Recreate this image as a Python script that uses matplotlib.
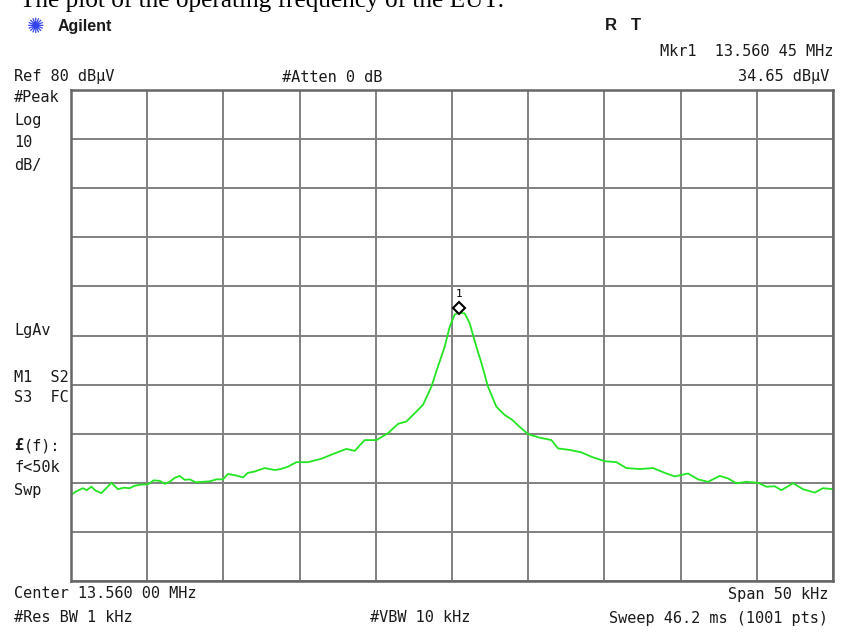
import matplotlib.pyplot as plt
import matplotlib.transforms as mtransforms

# Trace: offset from centre (kHz) and level (dBuV)
freq_khz = [
    -25.0, -24.69, -24.23, -23.97, -23.66, -23.38, -23.01, -22.72, -22.35, -21.92,
    -21.54, -21.15, -20.82, -20.49, -19.95, -19.57, -19.18, -18.85, -18.52, -18.20,
    -17.87, -17.54, -17.21, -16.82, -16.34, -15.90, -15.46, -15.03, -14.70, -14.19,
    -13.71, -13.41, -12.95, -12.29, -11.63, -11.24, -10.76, -10.21, -9.45, -8.57,
    -7.70, -6.93, -6.38, -5.73, -4.96, -4.20, -3.54, -2.99, -2.34, -1.90,
    -1.35, -0.92, -0.48, -0.15, 0.18, 0.45, 0.83, 1.16, 1.60, 1.93,
    2.36, 2.91, 3.46, 3.92, 4.44, 4.99, 5.75, 6.52, 6.96, 7.72,
    8.49, 9.15, 10.02, 10.79, 11.44, 12.32, 13.19, 14.07, 14.61, 15.49,
    16.14, 16.80, 17.57, 18.11, 18.66, 19.32, 20.08, 20.63, 21.17, 21.61,
    22.38, 23.03, 23.80, 24.34, 25.0,
]
level_dbuv = [
    -2.5, -1.8, -1.1, -1.5, -0.8, -1.6, -2.1, -1.2, 0.0, -1.3,
    -1.0, -1.1, -0.6, -0.4, -0.3, 0.5, 0.4, -0.2, 0.2, 1.0,
    1.4, 0.6, 0.7, 0.1, 0.2, 0.3, 0.7, 0.7, 1.8, 1.5,
    1.1, 2.0, 2.3, 3.0, 2.6, 2.8, 3.3, 4.2, 4.2, 4.9,
    6.0, 6.9, 6.5, 8.7, 8.7, 10.1, 12.0, 12.5, 14.5, 15.9,
    19.6, 23.7, 27.7, 31.8, 34.3, 34.65, 34.5, 32.5, 27.7, 24.4,
    19.6, 15.5, 13.8, 12.9, 11.4, 9.9, 9.2, 8.7, 7.0, 6.7,
    6.2, 5.3, 4.4, 4.2, 3.0, 2.8, 3.0, 1.9, 1.3, 1.9,
    0.7, 0.2, 1.4, 0.9, -0.1, 0.2, 0.0, -0.8, -0.7, -1.5,
    -0.1, -1.3, -2.0, -1.1, -1.3,
]

ref_level = 80
db_per_div = 10
span_khz = 50
mkr_freq = 0.45
mkr_level = 34.65

left_labels = [("#Peak", 98), ("Log", 120), ("10", 143), ("dB/", 165),
               ("LgAv", 330), ("M1  S2", 377), ("S3  FC", 398),
               ("f<50k", 468), ("Swp", 490)]

W, H = 842, 641
fig = plt.figure(figsize=(W / 100, H / 100), dpi=100)
fig.patch.set_facecolor('white')

ax = fig.add_axes([71 / W, (H - 581) / H, (833 - 71) / W, (581 - 90) / H])
ax.plot(freq_khz, level_dbuv, color='#22e622', linewidth=1.3)
ax.set_xlim(-span_khz / 2, span_khz / 2)
ax.set_ylim(ref_level - 10 * db_per_div, ref_level)
ax.set_xticks([-25 + 5 * i for i in range(11)])
ax.set_yticks([ref_level - db_per_div * i for i in range(11)])
ax.tick_params(length=0, labelbottom=False, labelleft=False)
ax.grid(True, color='#808080', linewidth=1.4)
for s in ax.spines.values():
    s.set_color('#666666')
    s.set_linewidth(1.8)

# marker 1 sits a few pixels above the trace
off = mtransforms.offset_copy(ax.transData, fig=fig, x=0, y=5, units='dots')
ax.plot([mkr_freq], [mkr_level], marker='D', ms=6, mfc='white', mec='black',
        mew=1.5, transform=off, clip_on=False)
ax.annotate('1', (mkr_freq, mkr_level), xytext=(0, 14), textcoords='offset pixels',
            ha='center', va='bottom', fontsize=8, family='DejaVu Sans Mono')


def txt(x, y, s, ha='left', **kw):
    kw.setdefault('family', 'DejaVu Sans Mono')
    kw.setdefault('fontsize', 11)
    kw.setdefault('color', '#1a1a1a')
    fig.text(x / W, 1 - y / H, s, ha=ha, va='center', **kw)


# caption, cut off at the top of the screenshot as in the original
fig.text(20 / W, 1 - 7 / H, "The plot of the operating frequency of the EUT:",
         family='Liberation Serif', fontsize=18.2, ha='left', va='baseline')

txt(36, 27, "✺", family='DejaVu Sans', fontsize=15, color='#3344ee', ha='center')
txt(58, 27, "Agilent", family='Liberation Sans', fontsize=11.5, weight='bold')
txt(611, 26, "R", family='Liberation Sans', fontsize=12, weight='bold', ha='center')
txt(636, 26, "T", family='Liberation Sans', fontsize=12, weight='bold', ha='center')

txt(833, 51, "Mkr1  13.560 45 MHz", ha='right')
txt(14, 77, "Ref 80 dBμV")
txt(282, 77, "#Atten 0 dB")
txt(829, 77, "34.65 dBμV", ha='right')

for s, y in left_labels:
    txt(14, y, s)
txt(14, 446, "£", weight='bold')
txt(24, 446, "(f):")

txt(14, 594, "Center 13.560 00 MHz")
txt(828, 594, "Span 50 kHz", ha='right')
txt(14, 618, "#Res BW 1 kHz")
txt(370, 618, "#VBW 10 kHz")
txt(828, 618, "Sweep 46.2 ms (1001 pts)", ha='right')

fig.savefig('out.png', dpi=100, facecolor='white')
